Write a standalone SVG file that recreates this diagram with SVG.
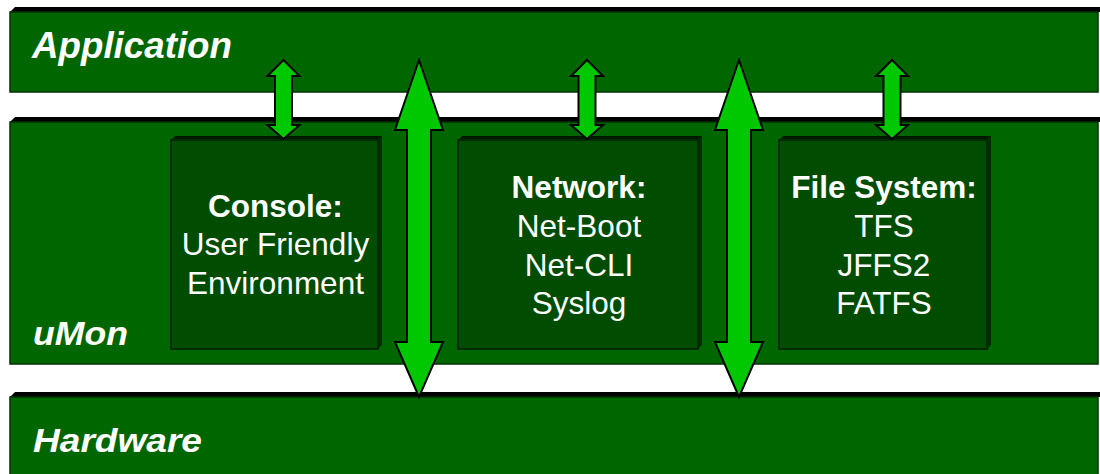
<svg xmlns="http://www.w3.org/2000/svg" width="1100" height="474" viewBox="0 0 1100 474">
<defs>
<style>
.layer{fill:#006600;stroke:#003000;stroke-width:1.5}
.ltop{fill:#000000}
.box{fill:#004c00;stroke:#002a00;stroke-width:2}
.btop{fill:#001a00}
.bside{fill:#002e00}
.arrow{fill:#00c800;stroke:#000000;stroke-width:2;stroke-linejoin:miter}
.lbl{font-family:"Liberation Sans",Arial,sans-serif;font-weight:bold;font-style:italic;fill:#ffffff}
.t{font-family:"Liberation Sans",Arial,sans-serif;font-size:31.5px;fill:#ffffff;text-anchor:middle}
.b{font-weight:bold}
</style>
</defs>
<rect width="1100" height="474" fill="#ffffff"/>
<g id="layer-application">
<polygon class="ltop" points="10,12 15,7 1104,7 1100,12"/>
<rect class="layer" x="10" y="12" width="1088" height="80"/>
<text class="lbl" x="32" y="58" font-size="36" textLength="200" lengthAdjust="spacingAndGlyphs">Application</text>
</g>
<g id="layer-umon">
<polygon class="ltop" points="10,122 15,117 1104,117 1100,122"/>
<rect class="layer" x="10" y="122" width="1088" height="242"/>
<text class="lbl" x="33" y="345" font-size="34" textLength="95" lengthAdjust="spacingAndGlyphs">uMon</text>
</g>
<g id="layer-hardware">
<polygon class="ltop" points="10,397 15,392 1104,392 1100,397"/>
<rect class="layer" x="10" y="397" width="1088" height="100"/>
<text class="lbl" x="33" y="452" font-size="34" textLength="169" lengthAdjust="spacingAndGlyphs">Hardware</text>
</g>
<g id="box-console">
<polygon class="btop" points="171,140 175,136 382,136 378,140"/>
<polygon class="bside" points="378,140 382,136 382,345 378,349"/>
<rect class="box" x="171" y="140" width="207" height="209"/>
<text class="t b" x="275.5" y="217">Console:</text>
<text class="t" x="275.5" y="255">User Friendly</text>
<text class="t" x="275.5" y="294">Environment</text>
</g>
<g id="box-network">
<polygon class="btop" points="458,140 462,136 702,136 698,140"/>
<polygon class="bside" points="698,140 702,136 702,345 698,349"/>
<rect class="box" x="458" y="140" width="240" height="209"/>
<text class="t b" x="579" y="198">Network:</text>
<text class="t" x="579" y="237">Net-Boot</text>
<text class="t" x="579" y="276">Net-CLI</text>
<text class="t" x="579" y="314">Syslog</text>
</g>
<g id="box-filesystem">
<polygon class="btop" points="779,140 783,136 991,136 987,140"/>
<polygon class="bside" points="987,140 991,136 991,345 987,349"/>
<rect class="box" x="779" y="140" width="208" height="209"/>
<text class="t b" x="884" y="198">File System:</text>
<text class="t" x="884" y="237">TFS</text>
<text class="t" x="884" y="276">JFFS2</text>
<text class="t" x="884" y="314">FATFS</text>
</g>
<g id="connectors">
<polygon class="arrow" points="283.5,60 299.5,76 292,76 292,125 299.5,125 283.5,139 267.5,125 275,125 275,76 267.5,76"/>
<polygon class="arrow" points="587,60 603,76 595.5,76 595.5,125 603,125 587,139 571,125 578.5,125 578.5,76 571,76"/>
<polygon class="arrow" points="892,60 908,76 900.5,76 900.5,125 908,125 892,139 876,125 883.5,125 883.5,76 876,76"/>
<polygon class="arrow" points="419,60 443,130 431,130 431,342 443,342 419,397 395,342 407,342 407,130 395,130"/>
<polygon class="arrow" points="739,60 763,130 751,130 751,342 763,342 739,397 715,342 727,342 727,130 715,130"/>
</g>
</svg>
